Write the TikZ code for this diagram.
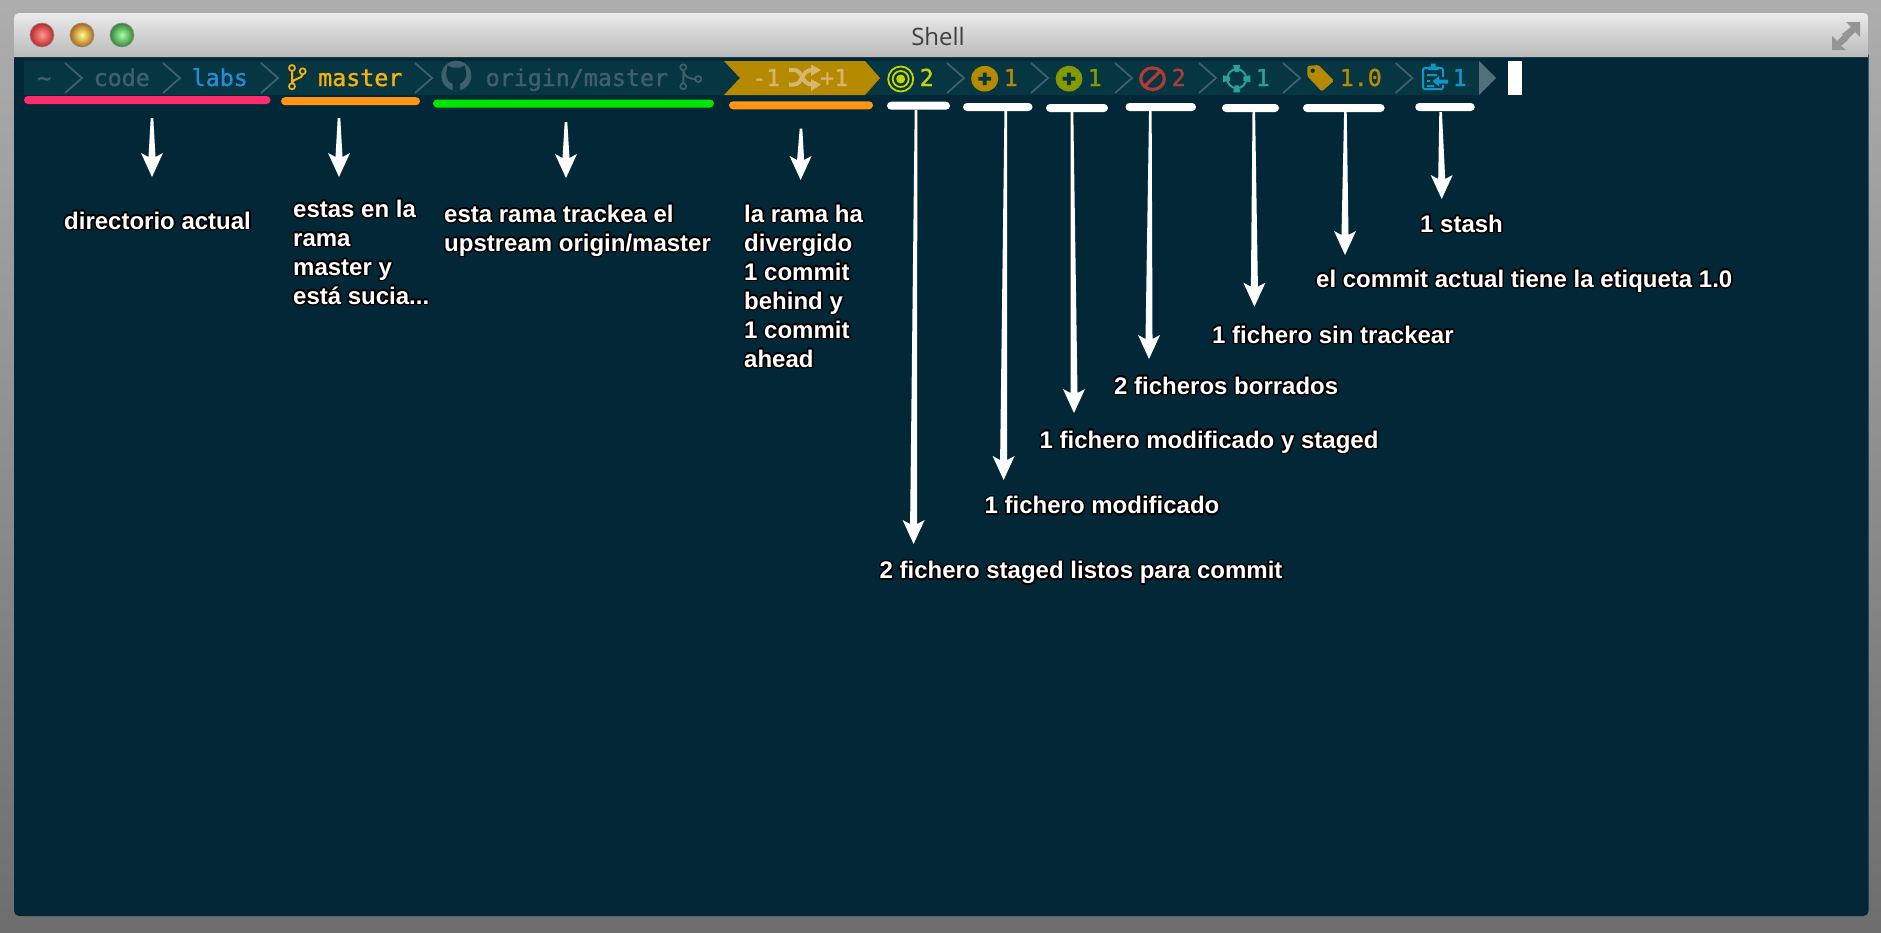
\documentclass[tikz,border=0pt]{standalone}
\usepackage{fontspec}
\setmainfont{Liberation Sans}
\setmonofont[FakeBold=1.3]{DejaVu Sans Mono}
\newfontfamily\titlefont{Open Sans}
\usepackage[copies]{contour}
\usetikzlibrary{calc,decorations.pathreplacing}

\definecolor{termbg}{HTML}{022838}
\definecolor{segbg}{HTML}{073643}
\definecolor{dimfg}{HTML}{3F5F6B}
\definecolor{yellowseg}{HTML}{B58900}
\definecolor{yellowfg}{HTML}{D6B56C}
\definecolor{greenseg}{HTML}{859900}
\definecolor{redseg}{HTML}{AF3A36}
\definecolor{cyanseg}{HTML}{2AA198}
\definecolor{blueseg}{HTML}{0F96C4}
\definecolor{labsfg}{HTML}{268BD2}
\definecolor{limeseg}{HTML}{C4D600}
\definecolor{masterfg}{HTML}{F7B20C}

\contourlength{1.5pt}
\contournumber{16}
\newcommand{\lbl}[1]{\strut\contour{black}{#1}}

\tikzstyle{seg} = [anchor=base west, inner sep=0pt, font=\fontsize{23.3}{23.3}\selectfont\ttfamily]
\tikzstyle{bar} = [rectangle, rounded corners=4, inner sep=0pt, minimum height=8, fill=white]
\tikzstyle{note} = [anchor=north west, inner sep=0pt, align=left, text=white, font=\fontsize{24}{29}\selectfont\bfseries]
\tikzstyle{chev} = [dimfg, line width=1.8]
\tikzstyle{lamp} = [circle, inner sep=0pt, minimum size=24, draw=black!45, line width=0.6]
\tikzstyle{callout} = [decorate, decoration={show path construction, lineto code={
  \fill[white] ($(\tikzinputsegmentfirst)+(-1.3,0)$) -- ($(\tikzinputsegmentlast)+(-3.5,-20)$)
    -- ($(\tikzinputsegmentlast)+(-11,-24)$) -- (\tikzinputsegmentlast)
    -- ($(\tikzinputsegmentlast)+(11,-24)$) -- ($(\tikzinputsegmentlast)+(3.5,-20)$)
    -- ($(\tikzinputsegmentfirst)+(1.3,0)$) -- cycle;
}}]

\newcommand{\chevron}[1]{\draw[chev] (#1,63) -- (#1+17,78) -- (#1,93);}

\begin{document}
\begin{tikzpicture}[x=1pt,y=-1pt]
\useasboundingbox (0,0) rectangle (1881,932);

% desktop and window
\shade[top color=black!32, bottom color=black!57] (0,0) rectangle (1881,932);
\fill[termbg, rounded corners=5] (14,50) rectangle (1868.5,916);
\shade[top color=black!8, bottom color=black!27, rounded corners=5]
  (14,57) -- (14,13) -- (1868.5,13) [sharp corners] -- (1868.5,57) -- cycle;
\node[font=\fontsize{24}{24}\titlefont, text=black!75] (title) at (938,36) {Shell};

\node[lamp, shading=radial, inner color=red!40!white, outer color=red!70!black!85] (closeLamp) at (42,35) {};
\node[lamp, shading=radial, inner color=yellow!45!white, outer color=orange!65!black!90] (minLamp) at (82,35) {};
\node[lamp, shading=radial, inner color=green!35!white, outer color=green!40!black!80] (zoomLamp) at (122,35) {};

% expand icon
\fill[black!42] (1846,22) -- (1860,22) -- (1860,37) -- (1855,32) -- (1847,40) -- (1842,34) -- (1851,27) -- cycle;
\fill[black!42] (1832,36) -- (1837,41) -- (1843,35) -- (1848,40) -- (1841,46) -- (1846,50) -- (1832,50) -- cycle;

% prompt background
\fill[segbg] (24,61) rectangle (1479,95);
\fill[yellowseg] (724,61) -- (865,61) -- (880,78) -- (865,95) -- (724,95) -- (740,78) -- cycle;
\fill[dimfg!90!white] (1479,61) -- (1496,78) -- (1479,95) -- cycle;
\fill[white] (1508,61) rectangle (1522,95);

\chevron{65}
\chevron{163}
\chevron{261}
\chevron{415}
\chevron{947}
\chevron{1031}
\chevron{1115}
\chevron{1199}
\chevron{1283}
\chevron{1395.5}

% prompt texts
\node[seg, text=dimfg] (home) at (37,86) {\textasciitilde};
\node[seg, text=dimfg] (code) at (93.5,86) {code};
\node[seg, text=labsfg] (labs) at (191.5,86) {labs};
\node[seg, text=masterfg] (master) at (318,86) {master};
\node[seg, text=dimfg] (origin) at (485.5,86) {origin/master};
\node[seg, text=yellowfg] (behind) at (752,86) {-1};
\node[seg, text=yellowfg] (ahead) at (820,86) {+1};
\node[seg, text=limeseg] (stagedNum) at (919.5,86) {2};
\node[seg, text=yellowseg] (modNum) at (1003.5,86) {1};
\node[seg, text=greenseg] (msNum) at (1087.5,86) {1};
\node[seg, text=redseg] (delNum) at (1171.5,86) {2};
\node[seg, text=cyanseg] (untNum) at (1255.5,86) {1};
\node[seg, text=yellowseg] (tagNum) at (1339.5,86) {1.0};
\node[seg, text=blueseg] (stashNum) at (1452.5,86) {1};

% branch icon
\draw[masterfg, line width=1.7] (292,68) circle (3) (292,86.3) circle (3) (302.7,71.3) circle (3);
\draw[masterfg, line width=2] (292,71) -- (292,83.3) (302.7,74.3) .. controls (302.7,79) and (293,78) .. (292,83);

% github icon
\fill[dimfg] (456.3,75.7) circle (15);
\fill[segbg] (447.5,65.5) -- (452,67.5) -- (460.5,67.5) -- (465,65.5) -- (466,72) .. controls (467,80) and (462,83) .. (460,83.5)
  -- (460,91) -- (452.5,91) -- (452.5,83.5) .. controls (450,83) and (445.5,80) .. (446.5,72) -- cycle;

% tracking icon
\draw[dimfg, line width=1.7] (683.3,67.3) circle (3) (683.3,86.3) circle (3) (698.3,79) circle (3);
\draw[dimfg, line width=2] (683.3,70.3) -- (683.3,83.3) (683.3,71) .. controls (684,77) and (690,79) .. (695.3,79);

% shuffle icon
\draw[yellowfg, line width=4] (789,70) -- (794,70) .. controls (803,70) and (801,84.5) .. (812,84.5);
\draw[yellowfg, line width=4] (789,84.5) -- (794,84.5) .. controls (803,84.5) and (801,70) .. (812,70);
\fill[yellowfg] (811,64.5) -- (821,70) -- (811,76) -- cycle (811,79) -- (821,84.5) -- (811,91) -- cycle;

% target icon
\draw[limeseg, line width=1.8] (900.7,79) circle (12.5) (900.7,79) circle (8);
\fill[limeseg] (900.7,79) circle (4.5);

% plus icons
\fill[yellowseg] (984.7,78.7) ellipse (13.6 and 12.8);
\fill[segbg] (982.9,72.5) rectangle (986.5,85) (978.4,76.9) rectangle (991,80.5);
\fill[greenseg] (1069,78.7) ellipse (13.4 and 12.8);
\fill[segbg] (1067.2,72.5) rectangle (1070.8,85) (1062.7,76.9) rectangle (1075.3,80.5);

% deleted icon
\draw[redseg, line width=3.2] (1152.5,78.7) ellipse (11.8 and 10.8) (1144.5,86.4) -- (1160.5,71);

% untracked icon
\draw[cyanseg, line width=2] (1236.7,78.7) circle (9.5);
\fill[cyanseg] (1233.2,65) -- (1240.2,65) -- (1238.7,72) -- (1234.7,72) -- cycle
  (1233.2,92.4) -- (1240.2,92.4) -- (1238.7,85.4) -- (1234.7,85.4) -- cycle
  (1223,75.2) -- (1223,82.2) -- (1230,80.7) -- (1230,76.7) -- cycle
  (1250.4,75.2) -- (1250.4,82.2) -- (1243.4,80.7) -- (1243.4,76.7) -- cycle;

% tag icon
\fill[yellowseg, rounded corners=1.5] (1307.3,66) -- (1318.5,65) -- (1334,80.7) -- (1321.7,91.5) -- (1307.3,76) -- cycle;
\fill[segbg] (1312.7,70.7) circle (2.2);

% stash icon
\draw[blueseg, line width=2, rounded corners=1.5] (1428,68) -- (1423,68) -- (1423,89) -- (1443,89) -- (1443,85)
  (1443,77) -- (1443,68) -- (1438,68);
\fill[blueseg] (1428,70) -- (1428,66.5) -- (1431,66.5) -- (1431,63.5) -- (1435.5,63.5) -- (1435.5,66.5) -- (1438.5,66.5) -- (1438.5,70) -- cycle;
\fill[blueseg] (1427,74) rectangle (1437,76) (1427,80) rectangle (1430,82) (1427,85) rectangle (1434,87);
\fill[blueseg] (1432.5,81.3) -- (1439,76) -- (1439,79.5) -- (1448,79.5) -- (1448,83.5) -- (1439,83.5) -- (1439,86.5) -- cycle;

% underlines
\node[bar, minimum width=246.5, fill={rgb,255:red,255;green,45;blue,110}] (dirBar) at (147.25,100) {};
\node[bar, minimum width=139, fill={rgb,255:red,255;green,148;blue,21}] (masterBar) at (350.5,101.2) {};
\node[bar, minimum width=281, fill={rgb,255:red,0;green,230;blue,0}] (originBar) at (573.5,103.5) {};
\node[bar, minimum width=144, fill={rgb,255:red,255;green,148;blue,21}] (divBar) at (801,105.3) {};
\node[bar, minimum width=63] (stagedBar) at (918.5,105.7) {};
\node[bar, minimum width=69.5] (modBar) at (997.75,107) {};
\node[bar, minimum width=62] (msBar) at (1077,108) {};
\node[bar, minimum width=70.5] (delBar) at (1160.75,107) {};
\node[bar, minimum width=57] (untBar) at (1250.5,108) {};
\node[bar, minimum width=81.6] (tagBar) at (1343.8,108) {};
\node[bar, minimum width=59.5] (stashBar) at (1445,107) {};

% labels
\node[note] (dirLabel) at (64,208.7) {\lbl{directorio actual}};
\node[note] (masterLabel) at (293,196.7) {\lbl{estas en la}\\\lbl{rama}\\\lbl{master y}\\\lbl{está sucia...}};
\node[note] (originLabel) at (444,201.7) {\lbl{esta rama trackea el}\\\lbl{upstream origin/master}};
\node[note] (divLabel) at (744,201.7) {\lbl{la rama ha}\\\lbl{divergido}\\\lbl{1 commit}\\\lbl{behind y}\\\lbl{1 commit}\\\lbl{ahead}};
\node[note] (stagedLabel) at (879.5,558.2) {\lbl{2 fichero staged listos para commit}};
\node[note] (modLabel) at (984.5,493.4) {\lbl{1 fichero modificado}};
\node[note] (msLabel) at (1039.5,427.7) {\lbl{1 fichero modificado y staged}};
\node[note] (delLabel) at (1114,373.7) {\lbl{2 ficheros borrados}};
\node[note] (untLabel) at (1212,322.7) {\lbl{1 fichero sin trackear}};
\node[note] (tagLabel) at (1316,266.7) {\lbl{el commit actual tiene la etiqueta 1.0}};
\node[note] (stashLabel) at (1420,211.7) {\lbl{1 stash}};

% arrows
\draw[callout] ([xshift=4.75,yshift=-14]dirBar.south) -- ([xshift=88,yshift=31.7]dirLabel.north west);
\draw[callout] ([xshift=-11.5,yshift=-12.7]masterBar.south) -- ([xshift=46,yshift=19.7]masterLabel.north west);
\draw[callout] ([xshift=-7.5,yshift=-14.5]originBar.south) -- ([xshift=122,yshift=23.7]originLabel.north west);
\draw[callout] ([yshift=-19]divBar.south) -- ([xshift=56.6,yshift=21.7]divLabel.north west);
\draw[callout] ([xshift=-2.5]stagedBar.south) -- ([xshift=34.1,yshift=14.2]stagedLabel.north west);
\draw[callout] ([xshift=8]modBar.south) -- ([xshift=19.1,yshift=13.4]modLabel.north west);
\draw[callout] ([xshift=-5]msBar.south) -- ([xshift=34.5,yshift=14.7]msLabel.north west);
\draw[callout] ([xshift=-10.4]delBar.south) -- ([xshift=35,yshift=14.7]delLabel.north west);
\draw[callout] ([xshift=3.3]untBar.south) -- ([xshift=42.4,yshift=16]untLabel.north west);
\draw[callout] ([xshift=1.6]tagBar.south) -- ([xshift=29,yshift=11.7]tagLabel.north west);
\draw[callout] ([xshift=-4.4,yshift=-1]stashBar.south) -- ([xshift=21.7,yshift=12.7]stashLabel.north west);

\end{tikzpicture}
\end{document}
